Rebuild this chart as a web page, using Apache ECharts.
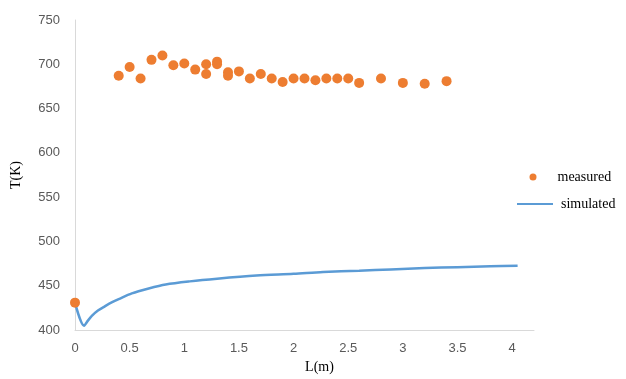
<!DOCTYPE html>
<html>
<head>
<meta charset="utf-8">
<script src="https://cdn.jsdelivr.net/npm/echarts@6/dist/echarts.min.js"></script>
<style>html,body{margin:0;padding:0;background:#fff}#c{width:626px;height:379px}</style>
</head>
<body>
<div id="c"></div>
<script>
var measuredL = [0,0.4,0.5,0.6,0.7,0.8,0.9,1.0,1.1,1.2,1.2,1.3,1.3,1.4,1.4,1.5,1.6,1.7,1.8,1.9,2.0,2.1,2.2,2.3,2.4,2.5,2.6,2.8,3.0,3.2,3.4];
var measuredT = [431,687,697,684,705,710,699,701,694,700,689,703,700,691,687,692,684,689,684,680,684,684,682,684,684,684,679,684,679,678,681];
var simulatedL = [0,0.083,0.12,0.154,0.21,0.276,0.34,0.40,0.52,0.674,0.83,1.05,1.3,1.66,2.0,2.27,2.6,2.89,3.2,3.5,3.8,4.05];
var simulatedT = [431,405,411,416,422,427,431.5,435,441.5,447,451.5,455,458,461.5,463.5,465.5,467,468.5,470,471,472,472.5];
var xTicks = [0,0.5,1,1.5,2,2.5,3,3.5,4];

function pairs(a,b){return a.map(function(v,i){return [v,b[i]];});}

var chart = echarts.init(document.getElementById('c'));
chart.setOption({
  animation:false,
  backgroundColor:'#fff',
  grid:{left:75,right:92,top:20,bottom:43.5},
  xAxis:{
    type:'value',min:0,max:4.2,interval:0.5,
    axisLine:{lineStyle:{color:'#d9d9d9'}},
    axisTick:{show:false},
    splitLine:{show:false},
    axisLabel:{color:'#595959',fontFamily:'Liberation Sans, Arial, sans-serif',fontSize:13,margin:12,showMaxLabel:false,
      formatter:function(v){return xTicks.indexOf(v)>=0?String(v):'';}},
    name:'L(m)',nameLocation:'middle',nameGap:29,
    nameTextStyle:{fontFamily:'Liberation Serif, Times New Roman, serif',fontSize:14,color:'#000',padding:[0,0,0,30]}
  },
  yAxis:{
    type:'value',min:400,max:750,interval:50,
    axisLine:{show:true,lineStyle:{color:'#d9d9d9'}},
    axisTick:{show:false},
    splitLine:{show:false},
    axisLabel:{color:'#595959',fontFamily:'Liberation Sans, Arial, sans-serif',fontSize:13,margin:15},
    name:'T(K)',nameLocation:'middle',nameGap:52,
    nameTextStyle:{fontFamily:'Liberation Serif, Times New Roman, serif',fontSize:14,color:'#000'}
  },
  legend:[
    {data:[{name:'measured',icon:'circle'}],left:529.5,top:170,padding:0,itemWidth:7,itemHeight:7,
      textStyle:{fontFamily:'Liberation Serif, Times New Roman, serif',fontSize:14,color:'#000',padding:[0,0,0,16]}},
    {data:[{name:'simulated',icon:'rect'}],left:517,top:197,padding:0,itemWidth:36,itemHeight:2,
      textStyle:{fontFamily:'Liberation Serif, Times New Roman, serif',fontSize:14,color:'#000',padding:[0,0,0,3]}}
  ],
  series:[
    {name:'simulated',type:'line',data:pairs(simulatedL,simulatedT),showSymbol:false,symbol:'none',
      smooth:0.3,
      lineStyle:{color:'#5B9BD5',width:2.5},itemStyle:{color:'#5B9BD5'},z:2},
    {name:'measured',type:'scatter',data:pairs(measuredL,measuredT),symbolSize:10,
      itemStyle:{color:'#ED7D31',opacity:1},z:3}
  ]
});
</script>
</body>
</html>
